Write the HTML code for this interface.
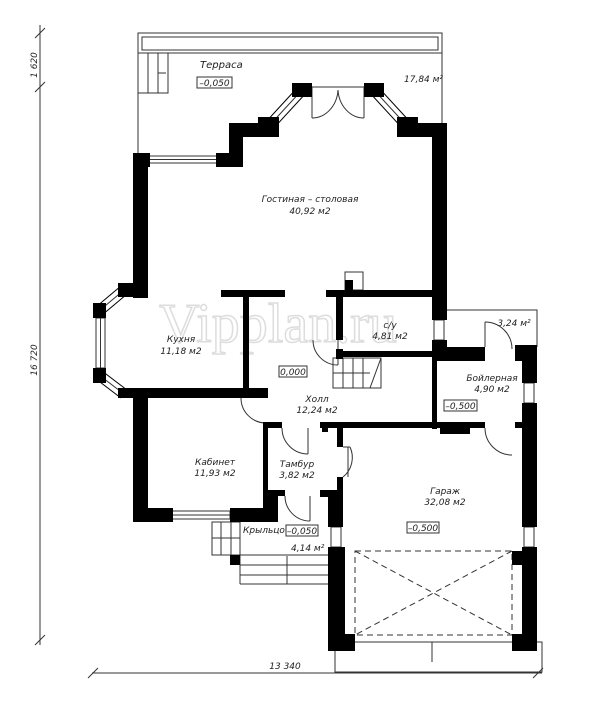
<!DOCTYPE html>
<html><head><meta charset="utf-8"><style>
html,body{margin:0;padding:0;background:#fff;width:600px;height:708px;overflow:hidden}
svg{display:block}
text{font-family:"DejaVu Sans","Liberation Sans",sans-serif;font-style:italic;fill:#222}
</style></head><body>
<svg width="600" height="708" viewBox="0 0 600 708" xmlns="http://www.w3.org/2000/svg">
<!-- watermark -->
<text x="278" y="342" text-anchor="middle" style="font-family:'Liberation Serif',serif;font-style:normal;font-size:56px;fill:#fff;stroke:#ddd;stroke-width:1.5">Vipplan.ru</text>

<!-- diagonal window strips -->
<g stroke-linecap="butt">
<line x1="268" y1="127" x2="302" y2="90" stroke="#000" stroke-width="11"/>
<line x1="268" y1="127" x2="302" y2="90" stroke="#fff" stroke-width="9"/>
<line x1="268" y1="127" x2="302" y2="90" stroke="#333" stroke-width="1"/>
<line x1="408" y1="127" x2="374" y2="90" stroke="#000" stroke-width="11"/>
<line x1="408" y1="127" x2="374" y2="90" stroke="#fff" stroke-width="9"/>
<line x1="408" y1="127" x2="374" y2="90" stroke="#333" stroke-width="1"/>
<line x1="124" y1="290" x2="99" y2="311" stroke="#000" stroke-width="11"/>
<line x1="124" y1="290" x2="99" y2="311" stroke="#fff" stroke-width="9"/>
<line x1="124" y1="290" x2="99" y2="311" stroke="#333" stroke-width="1"/>
<line x1="124" y1="394" x2="99" y2="375" stroke="#000" stroke-width="11"/>
<line x1="124" y1="394" x2="99" y2="375" stroke="#fff" stroke-width="9"/>
<line x1="124" y1="394" x2="99" y2="375" stroke="#333" stroke-width="1"/>
</g>

<g fill="none" stroke="#333" stroke-width="1">
<!-- terrace -->
<rect x="138" y="33" width="304" height="20"/>
<rect x="142" y="37" width="296" height="13"/>
<line x1="138" y1="53" x2="138" y2="153"/>
<line x1="442" y1="53" x2="442" y2="123"/>
<rect x="138" y="53" width="30" height="40"/>
<line x1="148" y1="53" x2="148" y2="93"/><line x1="158" y1="53" x2="158" y2="93"/>
<line x1="158" y1="73" x2="166" y2="73"/>
<!-- living door -->
<line x1="312" y1="87" x2="364" y2="87"/>
<line x1="312" y1="87" x2="312" y2="118"/><line x1="364" y1="87" x2="364" y2="118"/>
<path d="M312 118 A26 30 0 0 0 338 90"/><path d="M364 118 A26 30 0 0 1 338 90"/>
<!-- windows -->
<rect x="148" y="156" width="69" height="7"/>
<line x1="148" y1="159.5" x2="217" y2="159.5"/>
<rect x="96" y="318" width="9" height="50"/>
<line x1="100.5" y1="318" x2="100.5" y2="368"/>
<rect x="172" y="511" width="58" height="8"/>
<line x1="172" y1="515" x2="230" y2="515"/>
<rect x="434" y="320" width="10" height="20"/>
<rect x="524" y="383" width="10" height="20"/>
<rect x="524" y="527" width="10" height="20"/>
<rect x="331" y="527" width="10" height="20"/>
<!-- boiler porch -->
<polyline points="447,310 537,310 537,347"/>
<line x1="485" y1="322" x2="485" y2="347"/>
<path d="M485 322 A27 27 0 0 1 512 349"/>
<!-- doors -->
<path d="M313 340 A25 25 0 0 0 338 365"/>
<line x1="338" y1="340" x2="338" y2="365"/>
<path d="M241 398 A25 25 0 0 0 266 423"/>
<path d="M282 428 A26 26 0 0 0 308 454"/><line x1="308" y1="428" x2="308" y2="454"/>
<path d="M343 447 L350 447 M350 447 A25 25 0 0 1 343 477"/><line x1="348" y1="447" x2="348" y2="477"/>
<path d="M485 428 A27 27 0 0 0 512 455"/>
<path d="M285 496 A25 25 0 0 0 310 521"/><line x1="310" y1="496" x2="310" y2="521"/>
<!-- stairs -->
<rect x="333" y="358" width="48" height="30"/>
<line x1="343" y1="358" x2="343" y2="388"/><line x1="353" y1="358" x2="353" y2="388"/><line x1="363" y1="358" x2="363" y2="388"/>
<line x1="333" y1="373" x2="370" y2="373"/>
<path d="M381 358 L370 388"/>
<!-- porch steps -->
<rect x="212" y="522" width="28" height="33"/>
<line x1="221" y1="522" x2="221" y2="555"/><line x1="231" y1="522" x2="231" y2="555"/>
<line x1="212" y1="538" x2="240" y2="538"/>
<line x1="240" y1="555" x2="328" y2="555"/>
<line x1="240" y1="565" x2="328" y2="565"/>
<line x1="240" y1="575" x2="328" y2="575"/>
<line x1="240" y1="584" x2="328" y2="584"/>
<line x1="240" y1="555" x2="240" y2="584"/>
<line x1="287" y1="556" x2="287" y2="584"/>
<!-- garage gate -->
<rect x="355" y="551" width="157" height="84" stroke-dasharray="6,4"/>
<line x1="355" y1="551" x2="512" y2="635" stroke-dasharray="6,4"/>
<line x1="512" y1="551" x2="355" y2="635" stroke-dasharray="6,4"/>
<rect x="335" y="642" width="207" height="30"/>
<line x1="432" y1="642" x2="432" y2="662"/>
<!-- dimensions -->
<line x1="40" y1="25" x2="40" y2="645"/>
<path d="M35 38 L45 28 M35 92 L45 82 M35 645 L45 635"/>
<line x1="92" y1="673" x2="542" y2="673"/>
<path d="M88 678 L98 668 M533 678 L543 668"/>
<!-- vent block -->
<rect x="345" y="272" width="18" height="18"/>
</g>

<g fill="#000">
<!-- living -->
<rect x="133" y="153" width="15" height="145"/>
<rect x="133" y="153" width="17" height="14"/>
<rect x="216" y="153" width="27" height="14"/>
<rect x="229" y="123" width="14" height="44"/>
<rect x="229" y="123" width="50" height="14"/>
<rect x="258" y="117" width="21" height="20"/>
<rect x="292" y="83" width="20" height="14"/>
<rect x="364" y="83" width="20" height="14"/>
<rect x="397" y="117" width="21" height="20"/>
<rect x="397" y="123" width="50" height="14"/>
<rect x="432" y="123" width="15" height="197"/>
<rect x="432" y="340" width="15" height="20"/>
<!-- kitchen bay -->
<rect x="118" y="283" width="30" height="14"/>
<rect x="93" y="303" width="13" height="15"/>
<rect x="93" y="368" width="13" height="15"/>
<rect x="118" y="388" width="150" height="10"/>
<rect x="243" y="290" width="6" height="100"/>
<rect x="221" y="290" width="64" height="7"/>
<!-- c/u -->
<rect x="326" y="290" width="118" height="7"/>
<rect x="336" y="290" width="7" height="50"/>
<rect x="336" y="349" width="7" height="10"/>
<rect x="336" y="351" width="108" height="6"/>
<rect x="345" y="280" width="8" height="10"/>
<!-- boiler -->
<rect x="434" y="347" width="51" height="14"/>
<rect x="432" y="347" width="5" height="82"/>
<rect x="515" y="345" width="22" height="16"/>
<rect x="522" y="345" width="15" height="38"/>
<rect x="522" y="403" width="15" height="124"/>
<rect x="522" y="547" width="15" height="104"/>
<rect x="440" y="422" width="30" height="12"/>
<rect x="515" y="422" width="7" height="6"/>
<!-- hall bottom / garage top -->
<rect x="320" y="422" width="165" height="6"/>
<rect x="263" y="422" width="19" height="6"/>
<!-- cabinet -->
<rect x="133" y="393" width="15" height="129"/>
<rect x="133" y="508" width="40" height="14"/>
<rect x="230" y="508" width="48" height="14"/>
<rect x="263" y="422" width="5" height="100"/>
<rect x="263" y="490" width="22" height="6"/>
<rect x="268" y="490" width="10" height="32"/>
<!-- tambur / garage left -->
<rect x="320" y="490" width="23" height="7"/>
<rect x="322" y="422" width="6" height="10"/>
<rect x="337" y="422" width="6" height="25"/>
<rect x="337" y="477" width="6" height="20"/>
<rect x="328" y="497" width="15" height="30"/>
<rect x="328" y="547" width="17" height="104"/>
<rect x="230" y="555" width="10" height="10"/>
<rect x="328" y="634" width="27" height="17"/>
<rect x="512" y="634" width="25" height="17"/>
<rect x="328" y="551" width="15" height="14"/>
<rect x="512" y="551" width="25" height="14"/>
</g>

<!-- labels -->
<text x="200" y="68" font-size="10">Терраса</text>
<rect x="197" y="77" width="35" height="11" fill="none" stroke="#333"/>
<text x="214.5" y="86" font-size="9" text-anchor="middle">–0,050</text>
<text x="404" y="82" font-size="9">17,84 м²</text>
<text x="310" y="202" font-size="9" text-anchor="middle">Гостиная – столовая</text>
<text x="310" y="214" font-size="9" text-anchor="middle">40,92 м2</text>
<text x="181" y="342" font-size="9" text-anchor="middle">Кухня</text>
<text x="181" y="354" font-size="9" text-anchor="middle">11,18 м2</text>
<text x="390" y="328" font-size="9" text-anchor="middle">с/у</text>
<text x="390" y="339" font-size="9" text-anchor="middle">4,81 м2</text>
<rect x="279" y="366" width="28" height="11" fill="none" stroke="#333"/>
<text x="293" y="375" font-size="9" text-anchor="middle">0,000</text>
<text x="317" y="402" font-size="9" text-anchor="middle">Холл</text>
<text x="317" y="413" font-size="9" text-anchor="middle">12,24 м2</text>
<text x="514" y="326" font-size="9" text-anchor="middle">3,24 м²</text>
<text x="492" y="381" font-size="9" text-anchor="middle">Бойлерная</text>
<text x="492" y="392" font-size="9" text-anchor="middle">4,90 м2</text>
<rect x="444" y="400" width="33" height="11" fill="none" stroke="#333"/>
<text x="460.5" y="409" font-size="9" text-anchor="middle">–0,500</text>
<text x="215" y="465" font-size="9" text-anchor="middle">Кабинет</text>
<text x="215" y="476" font-size="9" text-anchor="middle">11,93 м2</text>
<text x="297" y="467" font-size="9" text-anchor="middle">Тамбур</text>
<text x="297" y="478" font-size="9" text-anchor="middle">3,82 м2</text>
<text x="445" y="494" font-size="9" text-anchor="middle">Гараж</text>
<text x="445" y="505" font-size="9" text-anchor="middle">32,08 м2</text>
<rect x="407" y="522" width="32" height="11" fill="none" stroke="#333"/>
<text x="423" y="531" font-size="9" text-anchor="middle">–0,500</text>
<text x="243" y="533" font-size="9">Крыльцо</text>
<rect x="286" y="525" width="32" height="11" fill="none" stroke="#333"/>
<text x="302" y="534" font-size="9" text-anchor="middle">–0,050</text>
<text x="291" y="551" font-size="9">4,14 м²</text>
<text x="285" y="669" font-size="9" text-anchor="middle">13 340</text>
<text transform="translate(37,65) rotate(-90)" font-size="9" text-anchor="middle">1 620</text>
<text transform="translate(37,360) rotate(-90)" font-size="9" text-anchor="middle">16 720</text>
</svg>
</body></html>
